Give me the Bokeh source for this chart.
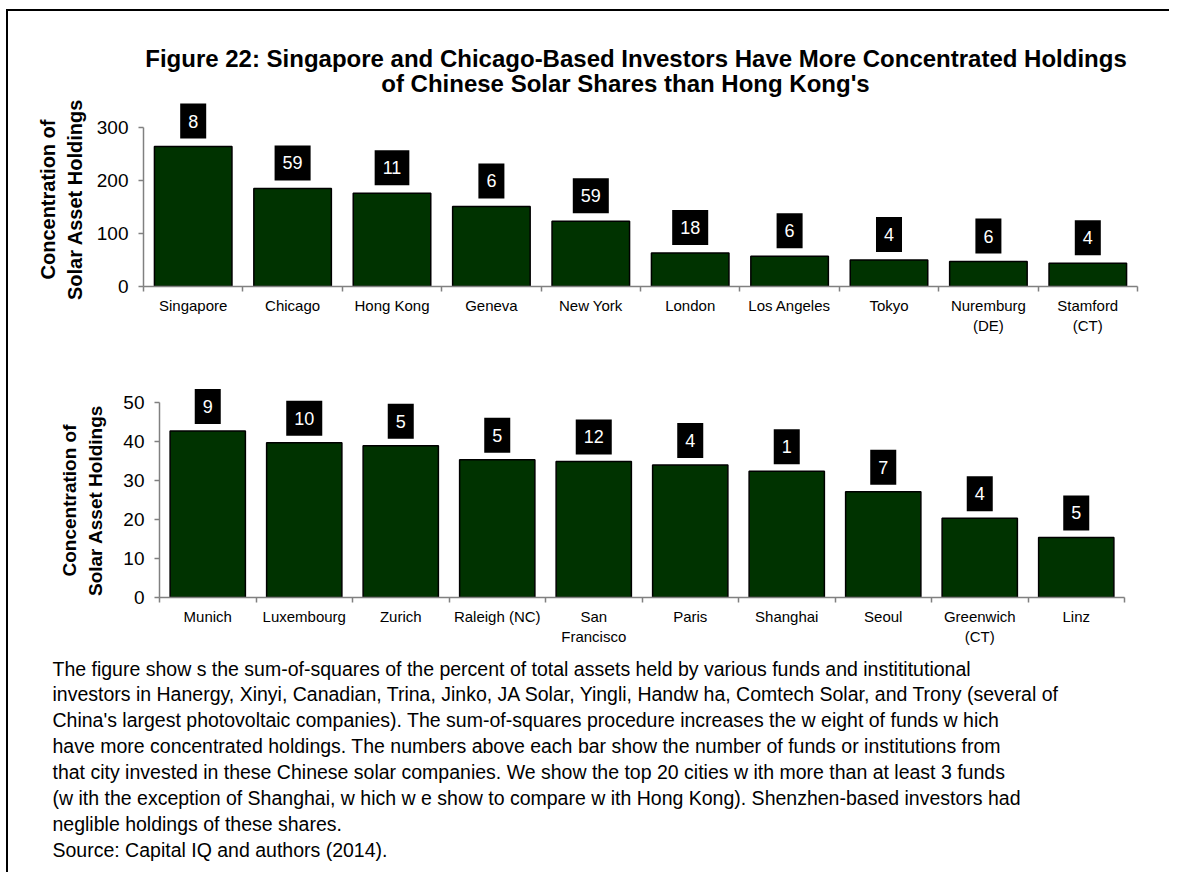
from bokeh.plotting import figure
from bokeh.models import Range1d, FactorRange, LinearAxis, FixedTicker, ColumnDataSource, Spacer
from bokeh.layouts import column, row
from bokeh.core.properties import value
from bokeh.embed import file_html
from bokeh.resources import INLINE
import math

# ---------------- data ----------------
top_cities = ["Singapore", "Chicago", "Hong Kong", "Geneva", "New York", "London",
              "Los Angeles", "Tokyo", "Nuremburg (DE)", "Stamford (CT)"]
top_tick_labels = ["Singapore", "Chicago", "Hong Kong", "Geneva", "New York", "London",
                   "Los Angeles", "Tokyo", "Nuremburg\n(DE)", "Stamford\n(CT)"]
top_values = [264, 185, 176, 151, 123, 63, 57, 50, 47, 44]
top_funds = [8, 59, 11, 6, 59, 18, 6, 4, 6, 4]
top_yticks = [0, 100, 200, 300]

bottom_cities = ["Munich", "Luxembourg", "Zurich", "Raleigh (NC)", "San Francisco", "Paris",
                 "Shanghai", "Seoul", "Greenwich (CT)", "Linz"]
bottom_tick_labels = ["Munich", "Luxembourg", "Zurich", "Raleigh (NC)", "San\nFrancisco", "Paris",
                      "Shanghai", "Seoul", "Greenwich\n(CT)", "Linz"]
bottom_values = [42.7, 39.7, 38.9, 35.3, 34.9, 34.0, 32.4, 27.1, 20.3, 15.4]
bottom_funds = [9, 10, 5, 5, 12, 4, 1, 7, 4, 5]
bottom_yticks = [0, 10, 20, 30, 40, 50]

title_lines = ["Figure 22: Singapore and Chicago-Based Investors Have More Concentrated Holdings",
               "of Chinese Solar Shares than Hong Kong's"]
y_axis_title_lines = ["Concentration of", "Solar Asset Holdings"]

caption_lines = [
    "The figure show s the sum-of-squares of the percent of total assets held by various funds and instititutional",
    "investors in Hanergy, Xinyi, Canadian, Trina, Jinko, JA Solar, Yingli, Handw ha, Comtech Solar, and Trony (several of",
    "China's largest photovoltaic companies). The sum-of-squares procedure increases the w eight of funds w hich",
    "have more concentrated holdings. The numbers above each bar show the number of funds or institutions from",
    "that city invested in these Chinese solar companies. We show the top 20 cities w ith more than at least 3 funds",
    "(w ith the exception of Shanghai, w hich w e show to compare w ith Hong Kong). Shenzhen-based investors had",
    "neglible holdings of these shares.",
    "Source: Capital IQ and authors (2014).",
]

# ---------------- style ----------------
FONT = "Liberation Sans"
GREEN = "#003300"
AXIS_GRAY = "#808080"
W = 1161          # width of the content block (page x 8 .. 1169)
HIDE = {"overflow": "hidden"}


def blank_fig(width, height, flip=True):
    yr = Range1d(height, 0) if flip else Range1d(0, height)
    p = figure(width=width, height=height, x_range=Range1d(0, width), y_range=yr,
               output_backend="svg", toolbar_location=None,
               x_axis_location=None, y_axis_location=None,
               min_border=0, frame_align=False)
    p.grid.visible = False
    p.outline_line_color = None
    return p


def ylabel_fig(width, height, x_first, spacing, y_center, size):
    p = blank_fig(width, height, flip=False)
    n = len(y_axis_title_lines)
    p.text(x=[x_first + spacing * i for i in range(n)], y=[y_center] * n, text=y_axis_title_lines,
           angle=math.pi / 2, text_align="center", text_baseline="middle",
           text_font=value(FONT), text_font_style="bold", text_font_size=size, text_color="black")
    return p


def chart(cats, tick_labels, vals, funds, yticks, y_end, width, height,
          left, right, bottom, gap):
    src = ColumnDataSource(dict(city=cats, value=vals, funds=[str(f) for f in funds]))
    p = figure(width=width, height=height, x_range=FactorRange(*cats), y_range=Range1d(0, y_end),
               output_backend="svg", toolbar_location=None, x_axis_location=None,
               min_border_left=left, min_border_right=right,
               min_border_top=0, min_border_bottom=bottom, frame_align=False)
    p.grid.visible = False
    p.outline_line_color = None

    p.vbar(x="city", top="value", width=0.78, source=src,
           fill_color=GREEN, line_color="black", line_width=1.5)
    p.text(x="city", y="value", text="funds", source=src,
           text_align="center", text_baseline="bottom", y_offset=-gap,
           text_color="white", text_font=value(FONT), text_font_size="18px",
           background_fill_color="black", padding=(8, 11))

    n = len(cats)
    centers = [i + 0.5 for i in range(n)]
    bounds = list(range(n + 1))
    xaxis = LinearAxis(ticker=FixedTicker(ticks=centers, minor_ticks=bounds),
                       major_label_overrides={c: t for c, t in zip(centers, tick_labels)})
    xaxis.axis_line_color = AXIS_GRAY
    xaxis.axis_line_width = 1.5
    xaxis.major_tick_line_color = None
    xaxis.major_tick_out = 0
    xaxis.major_tick_in = 0
    xaxis.minor_tick_line_color = AXIS_GRAY
    xaxis.minor_tick_line_width = 1.5
    xaxis.minor_tick_out = 5
    xaxis.minor_tick_in = 0
    xaxis.major_label_text_font = FONT
    xaxis.major_label_text_font_size = "15px"
    xaxis.major_label_text_color = "black"
    xaxis.major_label_standoff = 5
    p.add_layout(xaxis, "below")

    ya = p.yaxis[0]
    ya.ticker = FixedTicker(ticks=yticks)
    ya.bounds = (yticks[0], yticks[-1])
    ya.axis_line_color = AXIS_GRAY
    ya.axis_line_width = 1.5
    ya.major_tick_line_color = AXIS_GRAY
    ya.major_tick_line_width = 1.5
    ya.major_tick_out = 5
    ya.major_tick_in = 0
    ya.minor_tick_line_color = None
    ya.major_label_text_font = FONT
    ya.major_label_text_font_size = "19px"
    ya.major_label_text_color = "black"
    ya.major_label_standoff = 10
    return p


# title block: page y 11 .. 99
TH = 88
tp = blank_fig(W, TH)
tp.text(x=[627.5, 617], y=[47, 72], text=title_lines, text_align="center", text_baseline="middle",
        text_font=value(FONT), text_font_style="bold", text_font_size="24px", text_color="black")

# top chart block: page y 99 .. 380
H1 = 281
L1 = 85
lab1 = ylabel_fig(L1, H1, x_first=39, spacing=27.5, y_center=H1 - 100, size="20px")
p1 = chart(top_cities, top_tick_labels, top_values, top_funds, top_yticks,
           y_end=(286 - 99) / 0.53, width=W - L1, height=H1,
           left=50, right=32, bottom=94, gap=8)

# bottom chart block: page y 380 .. 650
H2 = 270
L2 = 110
lab2 = ylabel_fig(L2, H2, x_first=60.5, spacing=26.5, y_center=H2 - 120, size="19px")
p2 = chart(bottom_cities, bottom_tick_labels, bottom_values, bottom_funds, bottom_yticks,
           y_end=217 / 3.9, width=W - L2, height=H2,
           left=41, right=45, bottom=53, gap=7)

# caption block: page y 650 .. 872
CH = 222
cp = blank_fig(W, CH)
cp.text(x=[44] * len(caption_lines), y=[18 + 25.9 * i for i in range(len(caption_lines))],
        text=caption_lines, text_align="left", text_baseline="middle",
        text_font=value(FONT), text_font_size="19.5px", text_color="black")

stack = column(tp, row(lab1, p1, spacing=0, styles=HIDE), row(lab2, p2, spacing=0, styles=HIDE), cp,
               spacing=0, styles=HIDE)
total_h = TH + H1 + H2 + CH
left_bar = Spacer(width=2, height=total_h, styles={"background-color": "black"})
top_bar = Spacer(width=W + 2, height=2, styles={"background-color": "black"})
framed = column(top_bar, row(left_bar, stack, spacing=0, styles=HIDE), spacing=0, styles=HIDE)
layout = row(Spacer(width=6, height=10),
             column(Spacer(width=10, height=9), framed, spacing=0, styles=HIDE),
             spacing=0, styles=HIDE)

open("out.html", "w").write(file_html(layout, INLINE))
